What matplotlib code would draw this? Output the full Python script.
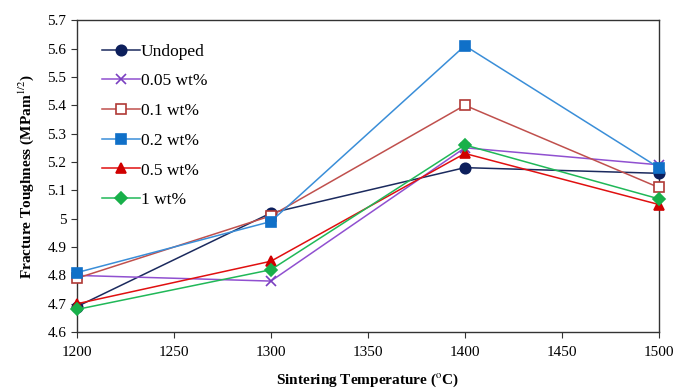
import matplotlib
matplotlib.use("Agg")
from matplotlib import pyplot as plt

plt.rcParams['font.family'] = ['Liberation Serif', 'DejaVu Serif']
plt.rcParams['mathtext.fontset'] = 'stix'

temps = [1200, 1300, 1400, 1500]
labels = ["Undoped", "0.05 wt%", "0.1 wt%", "0.2 wt%", "0.5 wt%", "1 wt%"]
undoped = [4.69, 5.02, 5.18, 5.16]
wt005 = [4.80, 4.78, 5.25, 5.19]
wt01 = [4.79, 5.01, 5.40, 5.11]
wt02 = [4.81, 4.99, 5.61, 5.18]
wt05 = [4.70, 4.85, 5.23, 5.05]
wt1 = [4.68, 4.82, 5.26, 5.07]

series = [undoped, wt005, wt01, wt02, wt05, wt1]
# (line colour, marker, marker face, marker edge, size)
styles = [
    ("#1b2a5e", "o", "#0d1f5c", "#0d1f5c", 7.5),
    ("#9050d0", "x", "#7a3fc0", "#7a3fc0", 7),
    ("#c0504d", "s", "white", "#b03a36", 7.5),
    ("#3a8ed8", "s", "#1070c8", "#1070c8", 7.5),
    ("#e01010", "^", "#d00000", "#d00000", 7.5),
    ("#20b858", "D", "#18b04a", "#18b04a", 6),
]

fig = plt.figure(figsize=(6.75, 3.88), dpi=100)
ax = fig.add_axes([0.114, 0.144, 0.862, 0.804])

for vals, lab, (lc, m, mf, me, ms) in zip(series, labels, styles):
    ax.plot(temps, vals, color=lc, lw=1.1, marker=m, markersize=ms,
            markerfacecolor=mf, markeredgecolor=me, markeredgewidth=1.2,
            label=lab, clip_on=False, zorder=3)

ax.set_xlim(1200, 1500)
ax.set_ylim(4.6, 5.7)
ax.set_xticks(range(1200, 1501, 50))
ax.set_yticks([4.6, 4.7, 4.8, 4.9, 5.0, 5.1, 5.2, 5.3, 5.4, 5.5, 5.6, 5.7])
ax.set_yticklabels(["4.6", "4.7", "4.8", "4.9", "5", "5.1", "5.2", "5.3",
                    "5.4", "5.5", "5.6", "5.7"])
ax.tick_params(labelsize=11, direction='out', length=4, color='#333333')
ax.tick_params(axis='x', pad=6)
for s in ax.spines.values():
    s.set_color('#333333')
    s.set_linewidth(1.0)

ax.set_xlabel("Sintering Temperature ($^{\\rm o}$C)", fontsize=11, fontweight='bold',
              labelpad=9)
ax.set_ylabel("Fracture Toughness (MPam$^{1/2}$)", fontsize=11, fontweight='bold',
              labelpad=8)

ax.legend(loc='upper left', bbox_to_anchor=(0.016, 0.975), frameon=False,
          fontsize=12.5, handlelength=2.2, handletextpad=0.05, labelspacing=0.78)

fig.savefig("out.png", dpi=100)
